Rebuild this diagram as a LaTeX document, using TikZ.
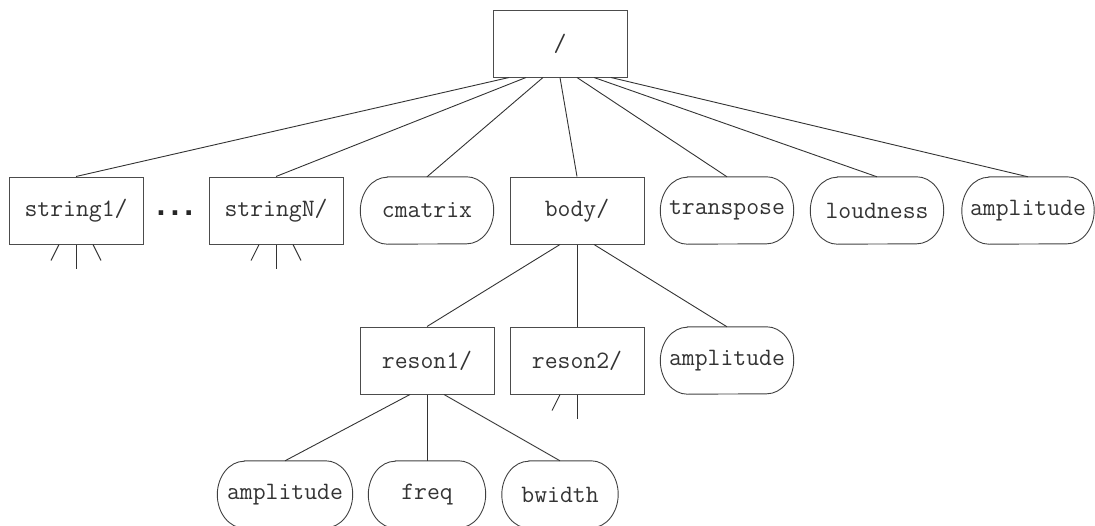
\documentclass[tikz,border=0pt]{standalone}
\usepackage{fontspec}
\newfontfamily\dotsfont{Liberation Sans}
\begin{document}
\begin{tikzpicture}[x=1pt,y=1pt,
  lbl/.style={font=\fontsize{25}{30}\selectfont\ttfamily, inner sep=0pt, text=black!80},
  dirbox/.style={lbl, draw=black!70, line width=1pt, minimum width=134, minimum height=67},
  pill/.style={lbl, minimum width=#1, minimum height=67},
  pillline/.style={draw=black!75, line width=0.9pt},
  conn/.style={draw=black!80, line width=0.9pt}]
\useasboundingbox (0,0) rectangle (1095,-525);

\node[dirbox] (root) at (560,-43.5) {/};
\node[dirbox] (s1) at (76,-210.5) {string1/};
\node[inner sep=0pt, font=\dotsfont\bfseries\fontsize{32}{36}\selectfont, text=black!85] (dots) at (175,-213) {.\hspace{5pt}.\hspace{5pt}.};
\node[dirbox] (sN) at (276,-210.5) {stringN/};
\node[pill=133] (cm) at (427,-210.5) {cmatrix};
\node[dirbox] (body) at (577,-210.5) {body/};
\node[pill=133] (tr) at (727,-210.5) {transpose};
\node[pill=133] (ld) at (877,-210.5) {loudness};
\node[pill=132] (amp) at (1028,-210.5) {amplitude};
\node[dirbox] (r1) at (427,-360.5) {reson1/};
\node[dirbox] (r2) at (577,-360.5) {reson2/};
\node[pill=133] (amp2) at (727,-360.5) {amplitude};
\node[pill=135] (amp3) at (285,-494.5) {amplitude};
\node[pill=117] (fq) at (427,-494.5) {freq};
\node[pill=116] (bw) at (560,-494.5) {bwidth};

\foreach \n in {cm,tr,ld,amp,amp2,amp3,fq,bw}{
  \draw[pillline] ([xshift=27pt]\n.north west) -- ([xshift=-27pt]\n.north east)
      arc[start angle=90, end angle=-90, x radius=27pt, y radius=33.5pt]
      -- ([xshift=27pt]\n.south west)
      arc[start angle=270, end angle=90, x radius=27pt, y radius=33.5pt] -- cycle;
}

\draw[conn] ([xshift=-51pt]root.south) -- (s1.north);
\draw[conn] ([xshift=-34pt]root.south) -- (sN.north);
\draw[conn] ([xshift=-17pt]root.south) -- (cm.north);
\draw[conn] (root.south) -- (body.north);
\draw[conn] ([xshift=17pt]root.south) -- (tr.north);
\draw[conn] ([xshift=34pt]root.south) -- (ld.north);
\draw[conn] ([xshift=51pt]root.south) -- (amp.north);

\draw[conn] ([xshift=-17pt]body.south) -- (r1.north);
\draw[conn] (body.south) -- (r2.north);
\draw[conn] ([xshift=17pt]body.south) -- (amp2.north);

\draw[conn] ([xshift=-17pt]r1.south) -- (amp3.north);
\draw[conn] (r1.south) -- (fq.north);
\draw[conn] ([xshift=17pt]r1.south) -- (bw.north);

\foreach \n in {s1,sN}{
  \coordinate (\n l) at ([shift={(-25pt,-16pt)}]\n.south);
  \coordinate (\n c) at ([shift={(0pt,-24pt)}]\n.south);
  \coordinate (\n r) at ([shift={(25pt,-16pt)}]\n.south);
  \draw[conn] ([xshift=-17pt]\n.south) -- (\n l);
  \draw[conn] (\n.south) -- (\n c);
  \draw[conn] ([xshift=17pt]\n.south) -- (\n r);
}
\coordinate (r2l) at ([shift={(-25pt,-16pt)}]r2.south);
\coordinate (r2c) at ([shift={(0pt,-24pt)}]r2.south);
\draw[conn] ([xshift=-17pt]r2.south) -- (r2l);
\draw[conn] (r2.south) -- (r2c);
\end{tikzpicture}
\end{document}
